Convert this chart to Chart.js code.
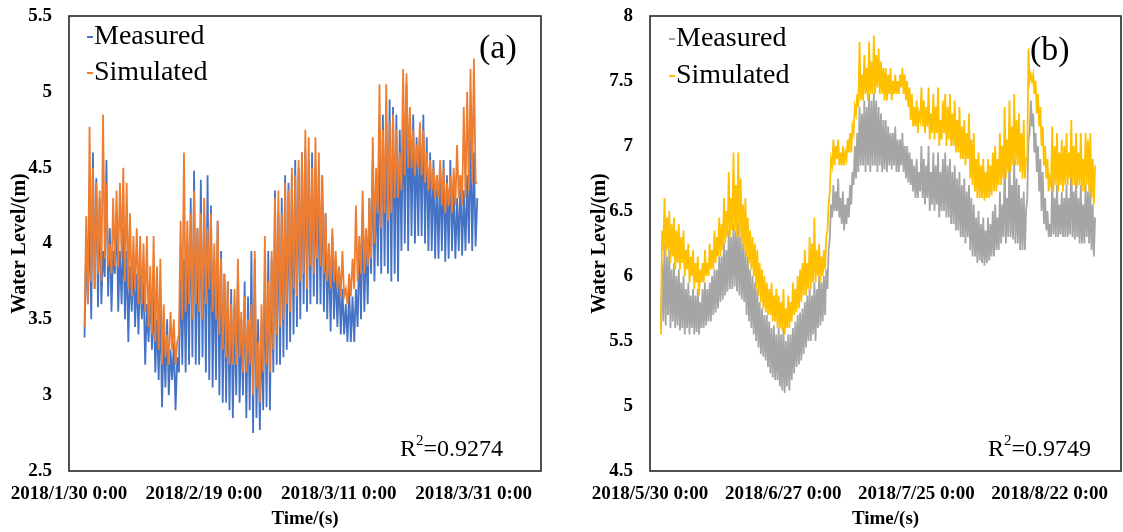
<!DOCTYPE html>
<html><head><meta charset="utf-8">
<script src="https://cdn.jsdelivr.net/npm/chart.js@4.4.1/dist/chart.umd.min.js"></script>
<style>
html,body{margin:0;padding:0;background:#fff;}
#wrap{position:relative;width:1123px;height:532px;overflow:hidden;font-family:'Liberation Serif','Times New Roman',serif;}
canvas{position:absolute;top:0;}
.t{position:absolute;white-space:nowrap;color:#000;line-height:1;}
.leg{font-size:28px;}
.dash{display:inline-block;width:6px;height:2px;vertical-align:middle;margin-right:1px;position:relative;top:-1px;}
.lab{font-size:34px;}
.r2{font-size:24px;}
.r2 sup{font-size:15px;vertical-align:top;position:relative;top:-3px;}
</style></head><body>
<div id="wrap">
<canvas id="ca" width="560" height="532" style="left:0"></canvas>
<canvas id="cb" width="563" height="532" style="left:560px"></canvas>
<div class="t leg" style="left:87px;top:21px"><span class="dash" style="background:#4472C4"></span>Measured</div>
<div class="t leg" style="left:87px;top:57px"><span class="dash" style="background:#ED7D31"></span>Simulated</div>
<div class="t lab" style="left:479px;top:30px">(a)</div>
<div class="t r2" style="left:400px;top:436px">R<sup>2</sup>=0.9274</div>
<div class="t leg" style="left:669px;top:23px"><span class="dash" style="background:#A5A5A5"></span>Measured</div>
<div class="t leg" style="left:669px;top:60px"><span class="dash" style="background:#FFC000"></span>Simulated</div>
<div class="t lab" style="left:1030px;top:32px">(b)</div>
<div class="t r2" style="left:988px;top:436px">R<sup>2</sup>=0.9749</div>
</div>
<script>
// ---------- shared ----------
const tideStep = 0.5; // days between successive tidal cycles
const axisFont = "'Liberation Serif','Times New Roman',serif";

// ---------- panel (a) ----------
const aStartDay = 2.3;
const aTickDays = [0, 20, 40, 60];
const aTickLabels = ['2018/1/30 0:00', '2018/2/19 0:00', '2018/3/11 0:00', '2018/3/31 0:00'];
const measAHigh = [4.0,4.2,4.6,4.43,4.3,3.95,4.55,4.1,3.95,4.2,
  3.95,4.1,3.95,3.85,3.9,3.8,3.85,3.75,3.6,3.7,
  3.65,3.5,3.6,3.45,3.5,3.3,3.35,3.25,3.85,3.9,
  4.0,4.3,4.48,4.1,4.42,4.2,4.45,4.25,3.9,4.15,
  3.95,3.8,3.75,3.7,3.6,3.8,3.5,3.75,3.65,3.95,
  3.9,3.5,3.45,3.8,3.95,3.9,4.35,4.2,4.3,4.45,
  4.4,4.45,4.55,4.5,4.6,4.62,4.55,4.6,4.5,4.45,
  4.45,4.2,4.0,4.05,3.85,3.8,3.7,3.6,3.7,3.65,
  3.7,4.0,4.2,4.05,4.3,4.55,4.45,4.7,4.85,4.8,
  4.95,4.9,4.85,4.75,4.9,5.05,4.85,4.85,4.7,4.75,
  4.85,4.7,4.6,4.55,4.45,4.5,4.55,4.45,4.55,4.4,
  4.3,4.45,4.35,4.45,4.7,4.6,4.3];
const measALow = [3.38,3.6,3.5,3.7,3.58,3.6,3.78,3.65,3.55,3.8,
  3.55,3.6,3.5,3.35,3.55,3.45,3.4,3.5,3.2,3.35,
  3.3,3.15,3.1,2.92,3.05,3.0,3.1,2.9,3.15,3.2,
  3.15,3.2,3.25,3.2,3.2,3.25,3.15,3.1,3.05,3.1,
  3.0,2.95,2.95,2.9,2.85,3.0,2.95,3.0,2.85,2.9,
  2.75,2.85,2.77,2.9,2.92,2.9,3.15,3.2,3.2,3.25,
  3.3,3.35,3.4,3.45,3.5,3.6,3.55,3.6,3.65,3.6,
  3.6,3.55,3.5,3.42,3.5,3.45,3.4,3.4,3.35,3.35,
  3.35,3.45,3.5,3.55,3.6,3.8,3.75,3.85,3.8,3.85,
  3.8,3.75,3.8,3.75,3.95,4.0,3.95,4.05,4.0,4.05,
  4.05,4.0,3.95,3.95,3.9,3.9,3.95,3.88,3.9,3.95,
  3.9,3.95,3.92,3.95,4.0,3.95,3.98];
const simAHigh = [4.18,4.77,4.5,4.4,4.35,4.85,4.4,4.0,4.3,4.35,
  4.4,4.5,4.4,4.2,4.05,4.1,4.05,4.0,4.05,3.85,
  4.05,3.85,3.9,3.6,3.4,3.55,3.5,3.35,4.15,4.6,
  4.15,4.2,4.35,4.1,4.2,4.3,4.1,4.2,4.0,4.15,
  3.9,3.8,3.75,3.6,3.7,3.9,3.55,3.65,3.5,3.6,
  3.95,3.35,3.6,4.05,3.75,3.95,4.3,4.35,4.2,4.4,
  4.35,4.5,4.45,4.55,4.6,4.75,4.7,4.5,4.7,4.6,
  4.45,4.2,4.0,4.1,3.95,3.85,3.95,3.7,3.8,3.9,
  4.25,4.05,4.35,4.1,4.3,4.7,4.5,5.05,4.75,5.05,
  4.8,4.85,4.75,4.6,5.15,5.12,4.9,4.75,4.65,4.8,
  4.75,4.6,4.55,4.5,4.45,4.55,4.5,4.4,4.45,4.5,
  4.65,4.45,4.9,5.0,5.15,5.22,4.4];
const simALow = [3.45,3.6,3.75,3.7,3.8,3.75,3.9,3.85,3.8,3.85,
  3.85,3.9,3.75,3.7,3.65,3.7,3.6,3.6,3.55,3.45,
  3.4,3.35,3.3,3.2,3.25,3.2,3.3,3.2,3.4,3.5,
  3.55,3.6,3.5,3.6,3.55,3.5,3.6,3.7,3.55,3.5,
  3.4,3.3,3.25,3.2,3.2,3.2,3.25,3.15,3.15,3.2,
  3.0,3.05,2.95,3.15,3.2,3.15,3.3,3.4,3.45,3.5,
  3.6,3.55,3.7,3.65,3.75,3.8,3.7,3.85,3.8,3.9,
  3.85,3.8,3.75,3.7,3.75,3.7,3.65,3.65,3.6,3.65,
  3.7,3.75,3.8,3.8,3.85,3.9,4.0,4.2,4.1,4.2,
  4.15,4.2,4.3,4.3,4.35,4.45,4.5,4.5,4.45,4.5,
  4.45,4.4,4.35,4.35,4.3,4.3,4.25,4.2,4.25,4.2,
  4.25,4.3,4.25,4.3,4.35,4.4,4.4];

// ---------- panel (b) ----------
const bStartDay = 2.3;
const bTickDays = [0, 28, 56, 84];
const bTickLabels = ['2018/5/30 0:00', '2018/6/27 0:00', '2018/7/25 0:00', '2018/8/22 0:00'];
const simBHigh = [6.35,6.6,6.45,6.5,6.4,6.45,6.35,6.4,6.3,6.35,
  6.2,6.25,6.15,6.2,6.1,6.15,6.05,6.1,6.2,6.1,
  6.25,6.2,6.35,6.3,6.45,6.4,6.6,6.5,6.8,6.6,
  6.95,6.7,6.95,6.75,6.55,6.6,6.45,6.35,6.3,6.25,
  6.2,6.1,6.05,6.0,5.95,5.9,5.95,5.85,5.9,5.85,
  5.8,5.9,5.75,5.85,5.8,5.95,5.9,6.0,6.05,6.1,
  6.2,6.1,6.3,6.25,6.45,6.2,6.25,6.15,6.2,6.3,
  6.55,6.9,7.05,7.0,7.05,6.95,7.0,6.95,7.05,7.1,
  7.15,7.3,7.4,7.8,7.55,7.7,7.6,7.8,7.65,7.85,
  7.7,7.75,7.65,7.6,7.6,7.55,7.6,7.5,7.55,7.5,
  7.55,7.6,7.55,7.5,7.45,7.4,7.3,7.35,7.25,7.45,
  7.35,7.3,7.45,7.25,7.4,7.3,7.45,7.2,7.35,7.4,
  7.3,7.4,7.25,7.35,7.2,7.3,7.15,7.2,7.1,7.25,
  7.05,7.1,6.9,6.95,6.85,6.9,6.8,6.9,6.85,6.95,
  7.0,6.9,7.1,7.0,7.3,7.05,7.35,7.15,7.4,7.2,
  7.25,7.1,7.2,6.9,7.75,7.55,7.55,7.5,7.4,7.3,
  7.15,7.0,6.9,6.75,7.15,7.0,7.1,6.95,7.05,7.0,
  7.1,6.95,7.2,7.0,7.1,6.95,7.1,6.9,7.1,7.05,
  7.1,6.9,6.85];
const simBLow = [5.55,6.2,6.15,6.2,6.1,6.15,6.05,6.1,6.05,6.1,
  6.0,6.05,5.95,6.0,5.9,5.95,5.85,5.95,5.95,6.0,
  6.0,6.05,6.05,6.1,6.15,6.15,6.2,6.25,6.3,6.3,
  6.35,6.35,6.3,6.3,6.25,6.2,6.15,6.1,6.05,6.0,
  5.9,5.85,5.8,5.75,5.72,5.7,5.7,5.65,5.65,5.6,
  5.6,5.58,5.55,5.6,5.6,5.65,5.7,5.72,5.75,5.8,
  5.85,5.85,5.9,5.9,5.95,5.95,6.0,5.95,6.0,6.05,
  6.35,6.65,6.85,6.85,6.9,6.85,6.85,6.85,6.9,6.95,
  6.95,7.1,7.25,7.3,7.35,7.35,7.4,7.35,7.4,7.4,
  7.4,7.45,7.4,7.4,7.35,7.35,7.4,7.35,7.4,7.4,
  7.4,7.45,7.4,7.35,7.3,7.2,7.15,7.15,7.1,7.2,
  7.15,7.1,7.15,7.05,7.1,7.05,7.1,7.0,7.05,7.1,
  7.0,7.05,7.0,7.0,6.95,6.95,6.9,6.9,6.85,6.9,
  6.75,6.7,6.65,6.6,6.6,6.6,6.58,6.6,6.6,6.62,
  6.65,6.65,6.7,6.7,6.75,6.75,6.8,6.8,6.85,6.85,
  6.85,6.8,6.75,6.75,6.9,7.5,7.5,7.4,7.25,7.15,
  7.0,6.85,6.75,6.65,6.7,6.65,6.7,6.65,6.7,6.65,
  6.7,6.7,6.75,6.7,6.7,6.68,6.7,6.65,6.65,6.7,
  6.65,6.6,6.55];
const measBHigh = [6.1,6.25,6.15,6.2,6.05,6.1,6.0,6.05,5.95,6.0,
  5.9,5.95,5.85,5.9,5.85,5.9,5.8,5.9,5.95,5.9,
  5.95,6.0,6.05,6.05,6.15,6.15,6.25,6.2,6.35,6.3,
  6.4,6.35,6.4,6.3,6.25,6.2,6.15,6.05,6.0,5.95,
  5.9,5.8,5.75,5.7,5.7,5.65,5.6,5.62,5.55,5.6,
  5.55,5.6,5.5,5.55,5.55,5.6,5.65,5.7,5.72,5.75,
  5.8,5.85,5.9,5.85,5.95,5.9,6.0,5.95,6.0,6.05,
  6.2,6.55,6.7,6.65,6.75,6.6,6.65,6.55,6.6,6.7,
  6.8,7.0,7.1,7.3,7.25,7.35,7.3,7.4,7.35,7.4,
  7.35,7.3,7.25,7.2,7.2,7.15,7.1,7.1,7.15,7.05,
  7.05,7.1,7.0,7.0,6.95,6.9,6.85,6.9,6.8,7.0,
  6.9,6.85,7.0,6.8,6.95,6.85,6.95,6.8,6.9,6.95,
  6.85,6.9,6.8,6.85,6.75,6.8,6.7,6.75,6.65,6.7,
  6.6,6.55,6.45,6.5,6.4,6.45,6.35,6.45,6.4,6.5,
  6.55,6.45,6.65,6.55,6.9,6.6,6.95,6.7,6.9,6.75,
  6.7,6.6,6.65,6.5,7.05,7.35,7.25,7.1,7.0,6.9,
  6.8,6.6,6.5,6.4,6.75,6.6,6.7,6.55,6.65,6.6,
  6.7,6.6,6.9,6.65,6.75,6.6,6.7,6.55,6.7,6.65,
  6.7,6.55,6.45];
const measBLow = [5.6,5.65,5.62,5.7,5.6,5.65,5.6,5.62,5.58,5.6,
  5.55,5.6,5.55,5.6,5.55,5.57,5.55,5.6,5.6,5.62,
  5.65,5.65,5.7,5.72,5.75,5.8,5.82,5.85,5.88,5.9,
  5.9,5.92,5.88,5.85,5.82,5.8,5.7,5.65,5.6,5.55,
  5.5,5.45,5.4,5.38,5.35,5.3,5.25,5.22,5.2,5.2,
  5.15,5.12,5.1,5.15,5.12,5.2,5.25,5.3,5.32,5.35,
  5.4,5.45,5.5,5.5,5.55,5.5,5.6,5.62,5.65,5.7,
  5.9,6.3,6.45,6.5,6.5,6.45,6.4,6.35,6.4,6.45,
  6.55,6.7,6.75,6.8,6.85,6.85,6.8,6.85,6.8,6.85,
  6.85,6.8,6.85,6.8,6.82,6.8,6.85,6.82,6.85,6.8,
  6.8,6.85,6.8,6.75,6.72,6.7,6.65,6.6,6.6,6.65,
  6.6,6.55,6.6,6.5,6.55,6.5,6.55,6.45,6.5,6.5,
  6.45,6.45,6.4,6.4,6.35,6.35,6.3,6.3,6.25,6.3,
  6.2,6.15,6.15,6.1,6.12,6.1,6.08,6.1,6.12,6.15,
  6.15,6.2,6.2,6.25,6.3,6.25,6.3,6.3,6.28,6.25,
  6.25,6.2,6.2,6.2,6.6,7.1,7.15,6.95,6.8,6.65,
  6.5,6.4,6.35,6.3,6.3,6.32,6.3,6.3,6.32,6.3,
  6.3,6.3,6.32,6.3,6.28,6.3,6.25,6.25,6.25,6.3,
  6.25,6.2,6.15];

// ---------- helpers ----------
function tide(start, lows, highs) {
  const pts = [];
  for (let k = 0; k < lows.length; k++) {
    pts.push({x: start + tideStep * k, y: lows[k]});
    pts.push({x: start + tideStep * k + tideStep / 2, y: highs[k]});
  }
  return pts;
}
const frame = {
  id: 'frame',
  afterDatasetsDraw(chart) {
    const {ctx, chartArea: a} = chart;
    ctx.save();
    ctx.strokeStyle = '#262626';
    ctx.lineWidth = 1.6;
    ctx.strokeRect(a.left, a.top, a.right - a.left, a.bottom - a.top);
    ctx.restore();
  }
};
function makeChart(id, c) {
  return new Chart(document.getElementById(id), {
    type: 'line',
    data: {datasets: [
      {label: 'Measured', data: tide(c.start, c.measLow, c.measHigh), borderColor: c.measColor,
       borderWidth: 1.8, pointRadius: 0, tension: 0, order: 2},
      {label: 'Simulated', data: tide(c.start, c.simLow, c.simHigh), borderColor: c.simColor,
       borderWidth: 1.8, pointRadius: 0, tension: 0, order: 1}
    ]},
    options: {
      responsive: false, animation: false,
      layout: {padding: {top: 16, right: c.padRight, left: 0, bottom: 0}},
      plugins: {legend: {display: false}, tooltip: {enabled: false}},
      scales: {
        x: {
          type: 'linear', min: 0, max: c.xMax,
          grid: {display: false, drawTicks: false}, border: {display: false},
          afterBuildTicks(s) { s.ticks = c.tickDays.map(v => ({value: v})); },
          afterFit(s) { s.height = 61; s.paddingLeft = 0; s.paddingRight = 0; },
          ticks: {autoSkip: false, maxRotation: 0, padding: 12, color: '#000',
            font: {family: axisFont, size: 19, weight: 'bold'},
            callback: v => c.tickLabels[c.tickDays.indexOf(v)]},
          title: {display: true, text: 'Time/(s)', color: '#000',
            font: {family: axisFont, size: 19, weight: 'bold'}, padding: {top: 0, bottom: 2}}
        },
        y: {
          min: c.yMin, max: c.yMax,
          grid: {display: false, drawTicks: false}, border: {display: false},
          afterFit(s) { s.width = c.yWidth; s.paddingTop = 0; s.paddingBottom = 0; },
          ticks: {stepSize: 0.5, padding: 17, color: '#000',
            font: {family: axisFont, size: 19, weight: 'bold'},
            callback: v => String(Math.round(v * 10) / 10)},
          title: {display: true, text: 'Water Level/(m)', color: '#000',
            font: {family: axisFont, size: 20, weight: 'bold'}, padding: {top: c.titlePad, bottom: 0}}
        }
      }
    },
    plugins: [frame]
  });
}
makeChart('ca', {start: aStartDay, measLow: measALow, measHigh: measAHigh, simLow: simALow, simHigh: simAHigh,
  measColor: '#4472C4', simColor: '#ED7D31', xMax: 70, tickDays: aTickDays, tickLabels: aTickLabels,
  yMin: 2.5, yMax: 5.5, yWidth: 69, padRight: 19, titlePad: 8});
makeChart('cb', {start: bStartDay, measLow: measBLow, measHigh: measBHigh, simLow: simBLow, simHigh: simBHigh,
  measColor: '#A5A5A5', simColor: '#FFC000', xMax: 99, tickDays: bTickDays, tickLabels: bTickLabels,
  yMin: 4.5, yMax: 8, yWidth: 90, padRight: 2, titlePad: 28});
</script>
</body></html>
